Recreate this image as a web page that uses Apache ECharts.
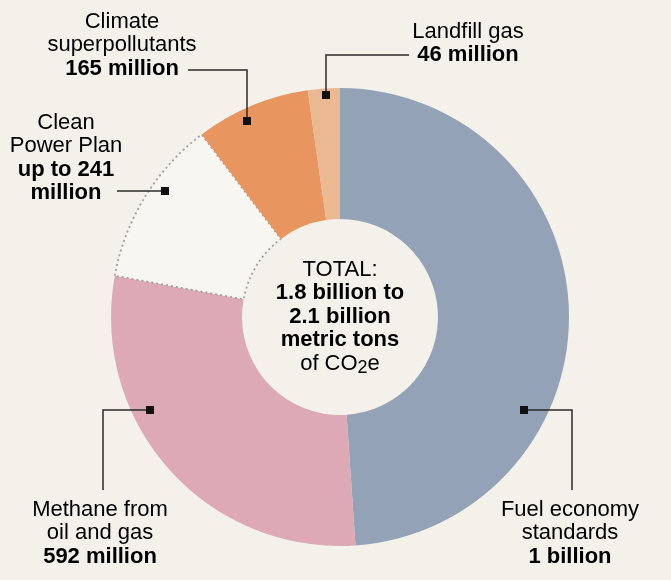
<!DOCTYPE html>
<html>
<head>
<meta charset="utf-8">
<script src="https://cdn.jsdelivr.net/npm/echarts@6/dist/echarts.min.js"></script>
<style>
  html, body { margin: 0; padding: 0; background: #f4f1ea; }
  #main { width: 671px; height: 580px; }
</style>
</head>
<body>
<div id="main"></div>
<script>
// reductions, million metric tons CO2e
const sources = ['Fuel economy standards', 'Methane from oil and gas', 'Clean Power Plan', 'Climate superpollutants', 'Landfill gas']
const amounts = [1000, 592, 241, 165, 46]
// label lines: plain name lines, then the bold amount lines
const nameLines = [['Fuel economy', 'standards'], ['Methane from', 'oil and gas'], ['Clean', 'Power Plan'], ['Climate', 'superpollutants'], ['Landfill gas']]
const amountLines = [['1 billion'], ['592 million'], ['up to 241', 'million'], ['165 million'], ['46 million']]
const totalLines = ['TOTAL:', '1.8 billion to', '2.1 billion', 'metric tons', 'of CO']

const colors = ['#93a2b7', '#dca9b5', '#f8f6f0', '#e8955f', '#eab991']
const FONT = '"Liberation Sans", Arial, sans-serif'
const INK = '#231f20'

// where each callout sits: text block centre/top, leader polyline, marker
const callouts = [
  { x: 570, y: 498, line: [[572, 490], [572, 410], [524, 410]] },
  { x: 100, y: 498, line: [[103, 490], [103, 410], [150, 410]] },
  { x: 66, y: 111, line: [[117, 191], [165, 191]] },
  { x: 122, y: 10, line: [[188, 70], [247, 70], [247, 121]] },
  { x: 468, y: 20, line: [[409, 55], [326, 55], [326, 95]] },
]

const chart = echarts.init(document.getElementById('main'))

const rich = {
  n: { fontFamily: FONT, fontSize: 22, lineHeight: 23.5, color: INK },
  b: { fontFamily: FONT, fontSize: 22, lineHeight: 23.5, color: INK, fontWeight: 'bold' },
  s: { fontFamily: FONT, fontSize: 18, lineHeight: 23.5, color: INK, padding: [8, 0, 0, 0] },
}

const graphics = []
callouts.forEach((c, i) => {
  const text = nameLines[i].map(t => '{n|' + t + '}')
    .concat(amountLines[i].map(t => '{b|' + t + '}')).join('\n')
  graphics.push({
    type: 'text', z: 10,
    style: { x: c.x, y: c.y, text: text, rich: rich, align: 'center', verticalAlign: 'top' }
  })
  graphics.push({
    type: 'polyline', z: 10,
    shape: { points: c.line },
    style: { stroke: '#2b2b2b', lineWidth: 1.5, fill: null }
  })
  const m = c.line[c.line.length - 1]
  graphics.push({
    type: 'rect', z: 11,
    shape: { x: m[0] - 4, y: m[1] - 4, width: 8, height: 8 },
    style: { fill: '#111' }
  })
})

// centre total
const totalText = '{n|' + totalLines[0] + '}\n' +
  totalLines.slice(1, 4).map(t => '{b|' + t + '}').join('\n') +
  '\n{n|' + totalLines[4] + '}{s|2}{n|e}'
graphics.push({
  type: 'text', z: 10,
  style: { x: 340, y: 258, text: totalText, rich: rich, align: 'center', verticalAlign: 'top' }
})

chart.setOption({
  backgroundColor: '#f4f1ea',
  animation: false,
  series: [{
    type: 'pie',
    center: [340, 317],
    radius: [98, 229],
    startAngle: 90,
    clockwise: true,
    silent: true,
    label: { show: false },
    labelLine: { show: false },
    data: sources.map((s, i) => ({
      name: s,
      value: amounts[i],
      itemStyle: i === 2
        ? { color: colors[i], borderColor: '#a0a0a0', borderType: [2, 3], borderWidth: 1.8 }
        : { color: colors[i], borderWidth: 0 }
    }))
  }],
  graphic: graphics
})
</script>
</body>
</html>
